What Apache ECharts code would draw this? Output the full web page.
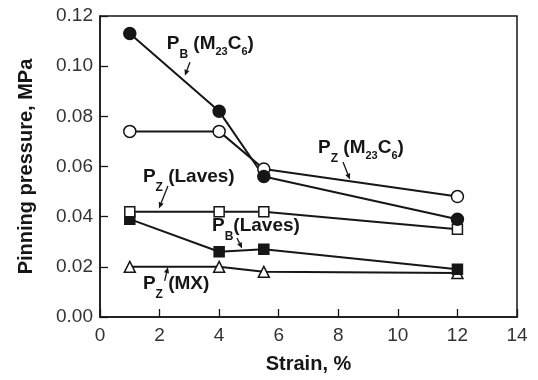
<!DOCTYPE html>
<html>
<head>
<meta charset="utf-8">
<script src="https://cdn.jsdelivr.net/npm/echarts@6/dist/echarts.min.js"></script>
<style>
html,body{margin:0;padding:0;background:#fff}
#main{width:538px;height:380px}
</style>
</head>
<body>
<div id="main"></div>
<script>
// strain values (x) shared by all series
var strain = [1, 4, 5.5, 12];
var pbM23C6 = [0.113, 0.082, 0.056, 0.039];
var pzM23C6 = [0.074, 0.074, 0.059, 0.048];
var pzLaves = [0.042, 0.042, 0.042, 0.035];
var pbLaves = [0.039, 0.026, 0.027, 0.019];
var pzMX = [0.020, 0.020, 0.018, 0.0175];

var font = '"Liberation Sans", Arial, Helvetica, sans-serif';
var ink = '#161616';

function pairs(ys) {
    var out = [];
    for (var i = 0; i < strain.length; i++) out.push([strain[i], ys[i]]);
    return out;
}

function mkSeries(name, ys, symbol, size, filled) {
    return {
        name: name,
        type: 'line',
        data: pairs(ys),
        symbol: symbol,
        symbolSize: size,
        showSymbol: true,
        lineStyle: { color: ink, width: 2 },
        itemStyle: { color: filled ? ink : '#fff', borderColor: ink, borderWidth: 1.5 },
        emphasis: { disabled: true },
        z: 3
    };
}

// annotation labels: pieces [text, kind] (0 normal, 1 letter subscript, 2 number subscript),
// anchor + arrow from/to in data coords
var notes = [
    { parts: [['P', 0], ['B', 1], [' (M', 0], ['23', 2], ['C', 0], ['6', 2], [')', 0]], at: [2.24, 0.1088], from: [3.02, 0.1016], to: [2.85, 0.0962] },
    { parts: [['P', 0], ['Z', 1], [' (M', 0], ['23', 2], ['C', 0], ['6', 2], [')', 0]], at: [7.32, 0.0674], from: [8.16, 0.0618], to: [8.39, 0.0548] },
    { parts: [['P', 0], ['Z', 1], [' (Laves)', 0]], at: [1.44, 0.0558], from: [2.28, 0.0522], to: [1.98, 0.0433] },
    { parts: [['P', 0], ['B', 1], ['(Laves)', 0]], at: [3.76, 0.0363], from: [4.60, 0.0315], to: [4.77, 0.0273] },
    { parts: [['P', 0], ['Z', 1], [' (MX)', 0]], at: [1.44, 0.0132], from: [2.17, 0.0144], to: [2.28, 0.0199] }
];

var chart = echarts.init(document.getElementById('main'));

var axisCommon = {
    type: 'value',
    nameLocation: 'middle',
    nameTextStyle: { fontSize: 20, fontWeight: 'bold', color: ink, fontFamily: font },
    axisLine: { show: true, onZero: false, lineStyle: { color: ink, width: 1.5 } },
    axisTick: { show: true, inside: true, length: 8, lineStyle: { color: ink, width: 1.3 } },
    axisLabel: { fontSize: 19, color: '#333', fontFamily: font },
    splitLine: { show: false }
};

var option = {
    animation: false,
    backgroundColor: '#fff',
    grid: { left: 100, right: 21, top: 16, bottom: 63, show: true, borderColor: ink, borderWidth: 1.5 },
    xAxis: Object.assign({}, axisCommon, {
        min: 0, max: 14, interval: 2,
        name: 'Strain, %',
        nameGap: 37,
        axisLabel: Object.assign({}, axisCommon.axisLabel, { margin: 9 })
    }),
    yAxis: Object.assign({}, axisCommon, {
        min: 0, max: 0.12, interval: 0.02,
        name: 'Pinning pressure, MPa',
        nameGap: 64,
        axisLabel: Object.assign({}, axisCommon.axisLabel, {
            margin: 7,
            formatter: function (v) { return v.toFixed(2); }
        })
    }),
    series: [
        mkSeries('PZ (MX)', pzMX, 'triangle', 11, false),
        mkSeries('PB (Laves)', pbLaves, 'rect', 10, true),
        mkSeries('PZ (Laves)', pzLaves, 'rect', 10, false),
        mkSeries('PZ (M23C6)', pzM23C6, 'circle', 12, false),
        mkSeries('PB (M23C6)', pbM23C6, 'circle', 12, true)
    ]
};
chart.setOption(option);

// labels + arrows placed through the grid's own coordinate system
var kinds = [
    { size: 19, dy: 0 },
    { size: 12, dy: 11 },
    { size: 11, dy: 8 }
];
var ctx = document.createElement('canvas').getContext('2d');
function textW(t, size) {
    ctx.font = 'bold ' + size + 'px ' + font;
    return ctx.measureText(t).width;
}
var g = [];
notes.forEach(function (a) {
    var p = chart.convertToPixel({ gridIndex: 0 }, a.at);
    var x = p[0];
    a.parts.forEach(function (pc) {
        var k = kinds[pc[1]];
        g.push({
            type: 'text', z: 10, silent: true,
            style: {
                x: x, y: p[1] + k.dy, text: pc[0], fill: ink,
                font: 'bold ' + k.size + 'px ' + font,
                align: 'left', verticalAlign: 'middle'
            }
        });
        x += textW(pc[0], k.size);
    });
    var s = chart.convertToPixel({ gridIndex: 0 }, a.from);
    var e = chart.convertToPixel({ gridIndex: 0 }, a.to);
    var dx = e[0] - s[0], dy = e[1] - s[1];
    var len = Math.sqrt(dx * dx + dy * dy);
    var ux = dx / len, uy = dy / len;
    var hl = 6, hw = 2.6;
    var bx = e[0] - ux * hl, by = e[1] - uy * hl;
    g.push({
        type: 'line', z: 10, silent: true,
        shape: { x1: s[0], y1: s[1], x2: bx, y2: by },
        style: { stroke: ink, lineWidth: 1.3 }
    });
    g.push({
        type: 'polygon', z: 10, silent: true,
        shape: { points: [[e[0], e[1]], [bx - uy * hw, by + ux * hw], [bx + uy * hw, by - ux * hw]] },
        style: { fill: ink }
    });
});
chart.setOption({ graphic: g });
</script>
</body>
</html>
